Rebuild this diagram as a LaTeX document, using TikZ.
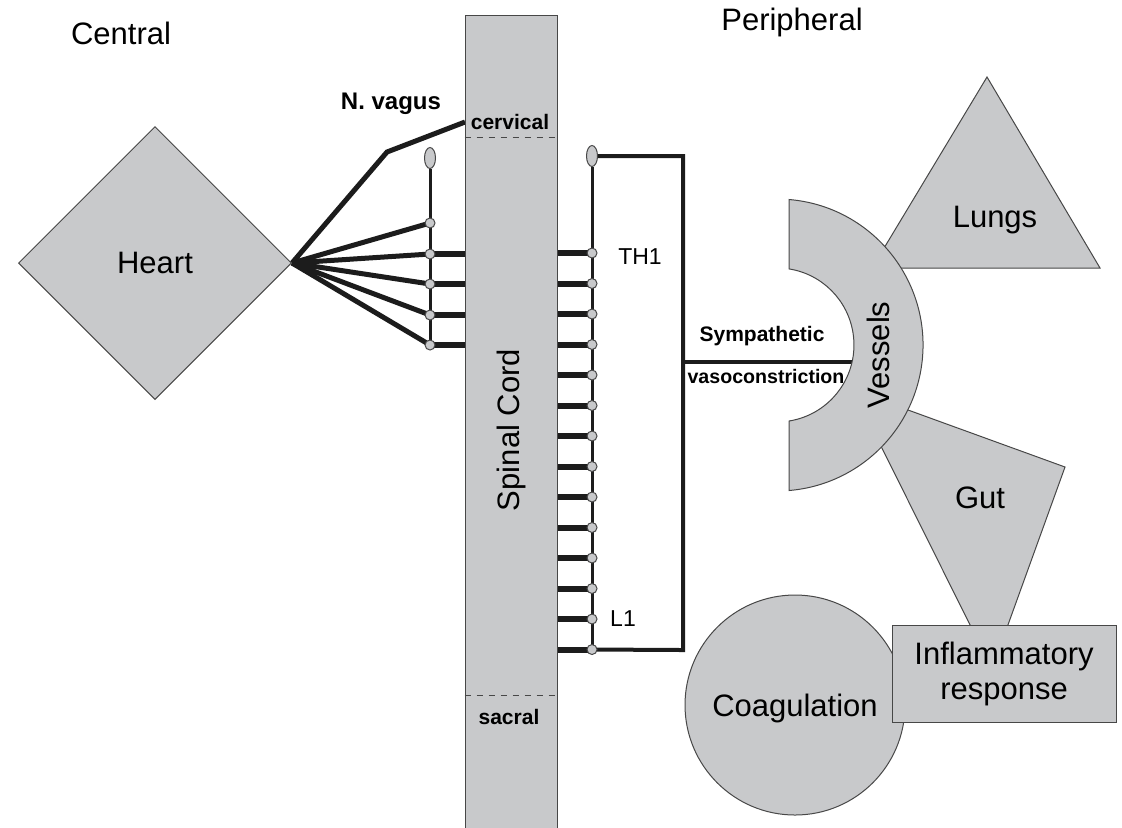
\documentclass[tikz,border=0pt]{standalone}
\usepackage{fontspec}
\setmainfont{Liberation Sans}
\usetikzlibrary{shapes.geometric,backgrounds}
\definecolor{organ}{HTML}{C8C9CB}
\definecolor{rim}{HTML}{474747}
\definecolor{ink}{HTML}{1C1C1C}
\begin{document}
\begin{tikzpicture}[x=.5pt,y=-.5pt,
    organ/.style={fill=organ,draw=rim,line width=.5pt},
    nerve/.style={ink,line width=2.5pt},
    root/.style={ink,line width=3pt},
    chain/.style={ink,line width=1.5pt},
    tract/.style={ink,line width=2pt},
    gang/.style={circle,organ,inner sep=0pt,minimum size=5pt},
    bulb/.style={ellipse,organ,inner sep=0pt,minimum width=5.5pt,minimum height=10.5pt},
    big/.style={font=\fontsize{15.5}{17.5}\selectfont},
    small/.style={font=\bfseries\fontsize{10.5}{12}\selectfont}]
    \useasboundingbox (0,0) rectangle (1122,827);
    \clip (0,0) rectangle (1122,827);
    \node[big] (central) at (121,33) {Central};
    \node[big] (periph) at (792,22) {Peripheral};
    % spinal cord
    \node[organ,inner sep=0pt,minimum width=46pt,minimum height=412.5pt] (cord) at (511,427.5) {};
    \draw[rim,dashed,line width=.5pt] (cord.west |- 0,137) -- (cord.east |- 0,137);
    \draw[rim,dashed,line width=.5pt] (cord.west |- 0,695) -- (cord.east |- 0,695);
    \node[big,rotate=90] (cordlabel) at (511,430) {Spinal Cord};
    \node[small] (cerv) at (510,122) {cervical};
    \node[small] (sacr) at (509,717) {sacral};
    \node[diamond,organ,inner sep=0pt,minimum width=136.5pt,minimum height=136.5pt,big] (heart) at (155,263) {Heart};
    % ganglia
    \node[bulb] (lb) at (430,158) {};
    \foreach \y [count=\i] in {223,254,284,315,345}
        \node[gang] (lg\i) at (430,\y) {};
    \node[bulb] (rb) at (592,156) {};
    \foreach \i in {1,...,14}
        \node[gang] (rg\i) at (592,{253+(\i-1)*30.5}) {};
    \coordinate (vbend) at (387,152);
    \coordinate (vtop) at (465,122);
    \coordinate (rtop) at (683,156);
    \coordinate (rbot) at (683,650);
    \coordinate (symp) at (683,362);
    \coordinate (vesin) at (852,362);
    \begin{pgfonlayer}{background}
        \draw[nerve] (heart.east) -- (vbend) -- (vtop);
        \foreach \i in {1,...,5}
            \draw[nerve] (heart.east) -- (lg\i.center);
        \draw[chain] (lb) -- (lg5.center);
        \foreach \i in {2,...,5}
            \draw[root] (lg\i.center) -- (lg\i -| cord.west);
        \draw[chain] (rb) -- (rg14.center);
        \foreach \i in {1,...,14}
            \draw[root] (rg\i -| cord.east) -- (rg\i.center);
        \draw[tract] (rb) -- (rtop) -- (rbot) -- (rg14.center);
        \draw[tract] (symp) -- (vesin);
    \end{pgfonlayer}
    \node[small,font=\bfseries\fontsize{12}{14}\selectfont] (vagus) at (391,104) {N. vagus};
    \node[font=\fontsize{11.5}{13}\selectfont] (th) at (640,257) {TH1};
    \node[font=\fontsize{11.5}{13}\selectfont] (lone) at (623,619) {L1};
    \node[small] (sympa) at (762,336) {Sympathetic};
    \node[small,font=\bfseries\fontsize{9.8}{12}\selectfont] (vaso) at (766,376) {vasoconstriction};
    % organs
    \draw[organ] (872,268) -- (987,77) -- (1100,268) -- cycle;
    \draw[organ] (853,390) -- (1065,467) -- (992,669) -- cycle;
    \draw[organ] (789,199.5) arc[start angle=-85.3,end angle=85.3,radius=146] -- (789,421)
        arc[start angle=81,end angle=-81,radius=77] -- cycle;
    \node[big] (lungs) at (995,220) {Lungs};
    \node[big] (gut) at (980,498) {Gut};
    \node[big,rotate=90] (vessels) at (878,355) {Vessels};
    \node[circle,organ,inner sep=0pt,minimum size=110pt,big,text depth=-3pt] (coag) at (795,705) {Coagulation};
    \node[organ,inner sep=0pt,minimum width=112pt,minimum height=48.5pt,align=center,big] (infl) at (1004,673.5) {Inflammatory\\response};
\end{tikzpicture}
\end{document}
